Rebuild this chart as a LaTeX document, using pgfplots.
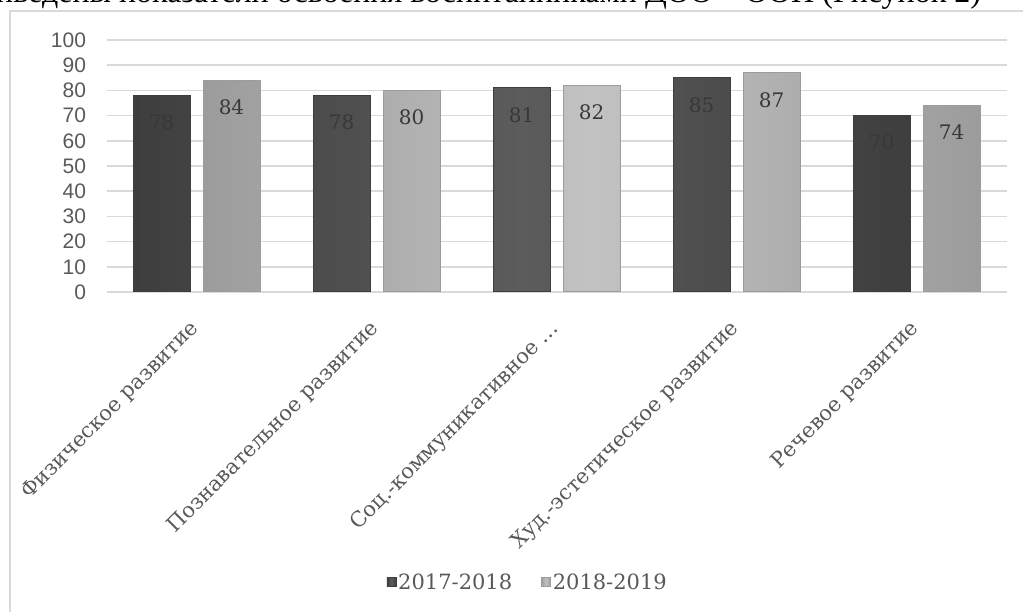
\documentclass[border=0pt]{standalone}
\usepackage{pgfplots}
\pgfplotsset{compat=1.18}
\usepackage{fontspec}
\setmainfont{DejaVu Serif}
\newfontfamily\ticksans{Liberation Sans}
\newfontfamily\timesfont{Liberation Serif}

\definecolor{gridgray}{HTML}{D9D9D9}
\definecolor{txtgray}{HTML}{595959}
\definecolor{darkface}{HTML}{5C5C5C}
\definecolor{darkedge}{HTML}{3E3E3E}
\definecolor{lightface}{HTML}{C2C2C2}
\definecolor{lightedge}{HTML}{9C9C9C}

\begin{document}
\begin{tikzpicture}[x=1bp,y=1bp]
\path[use as bounding box] (0,0) rectangle (1023,612);
% chart frame and the cut-off caption line above it
\draw[gridgray, line width=1.5bp] (10,-20) -- (10,601) -- (1040,601);
\node[anchor=base west, inner sep=0, font=\timesfont\fontsize{32bp}{36bp}\selectfont]
  at (-4,609) {иведены показатели освоения воспитанниками ДОО – ООП (Рисунок 2)};

\begin{axis}[
    at={(106.5bp,320bp)}, anchor=south west,
    scale only axis,
    width=900bp, height=252bp,
    ymin=0, ymax=100,
    ytick={0,10,...,100},
    xmin=-0.5, xmax=4.5,
    xtick={0,1,2,3,4},
    xticklabels={Физическое развитие, Познавательное развитие,
      Соц.-коммуникативное …, Худ.-эстетическое развитие, Речевое развитие},
    /pgf/number format/assume math mode=true,
    axis line style={draw=none},
    major tick length=0,
    ymajorgrids,
    grid style={gridgray, line width=1.5bp},
    yticklabel style={font=\ticksans\fontsize{21bp}{24bp}\selectfont,
      color=txtgray, xshift=-17bp},
    xticklabel style={font=\fontsize{21bp}{24bp}\selectfont, color=txtgray,
      rotate=45, anchor=north east, inner sep=2bp, xshift=-22bp, yshift=-11bp},
    ybar, bar width=57bp,
    nodes near coords,
    every node near coord/.append style={font=\fontsize{20bp}{24bp}\selectfont,
      anchor=center, yshift=-27bp},
    legend columns=2,
    legend style={at={(0.468,-1.151)}, anchor=center, draw=none,
      font=\fontsize{21bp}{24bp}\selectfont, text=txtgray,
      /tikz/every even column/.append style={column sep=27bp}},
    legend image code/.code={\draw[#1, line width=0.6bp] (0bp,-4.5bp) rectangle (9bp,4.5bp);},
]
\addplot[bar shift=-35bp, draw=darkedge, line width=1bp,
  left color=darkedge, right color=darkedge, middle color=darkface,
  nodes near coords style={color=black!78}]
  coordinates {(0,78) (1,78) (2,81) (3,85) (4,70)};
\addplot[bar shift=35bp, draw=lightedge, line width=1bp,
  left color=lightedge, right color=lightedge, middle color=lightface,
  nodes near coords style={color=black!78}]
  coordinates {(0,84) (1,80) (2,82) (3,87) (4,74)};
\legend{2017-2018, 2018-2019}
\end{axis}
\end{tikzpicture}
\end{document}
